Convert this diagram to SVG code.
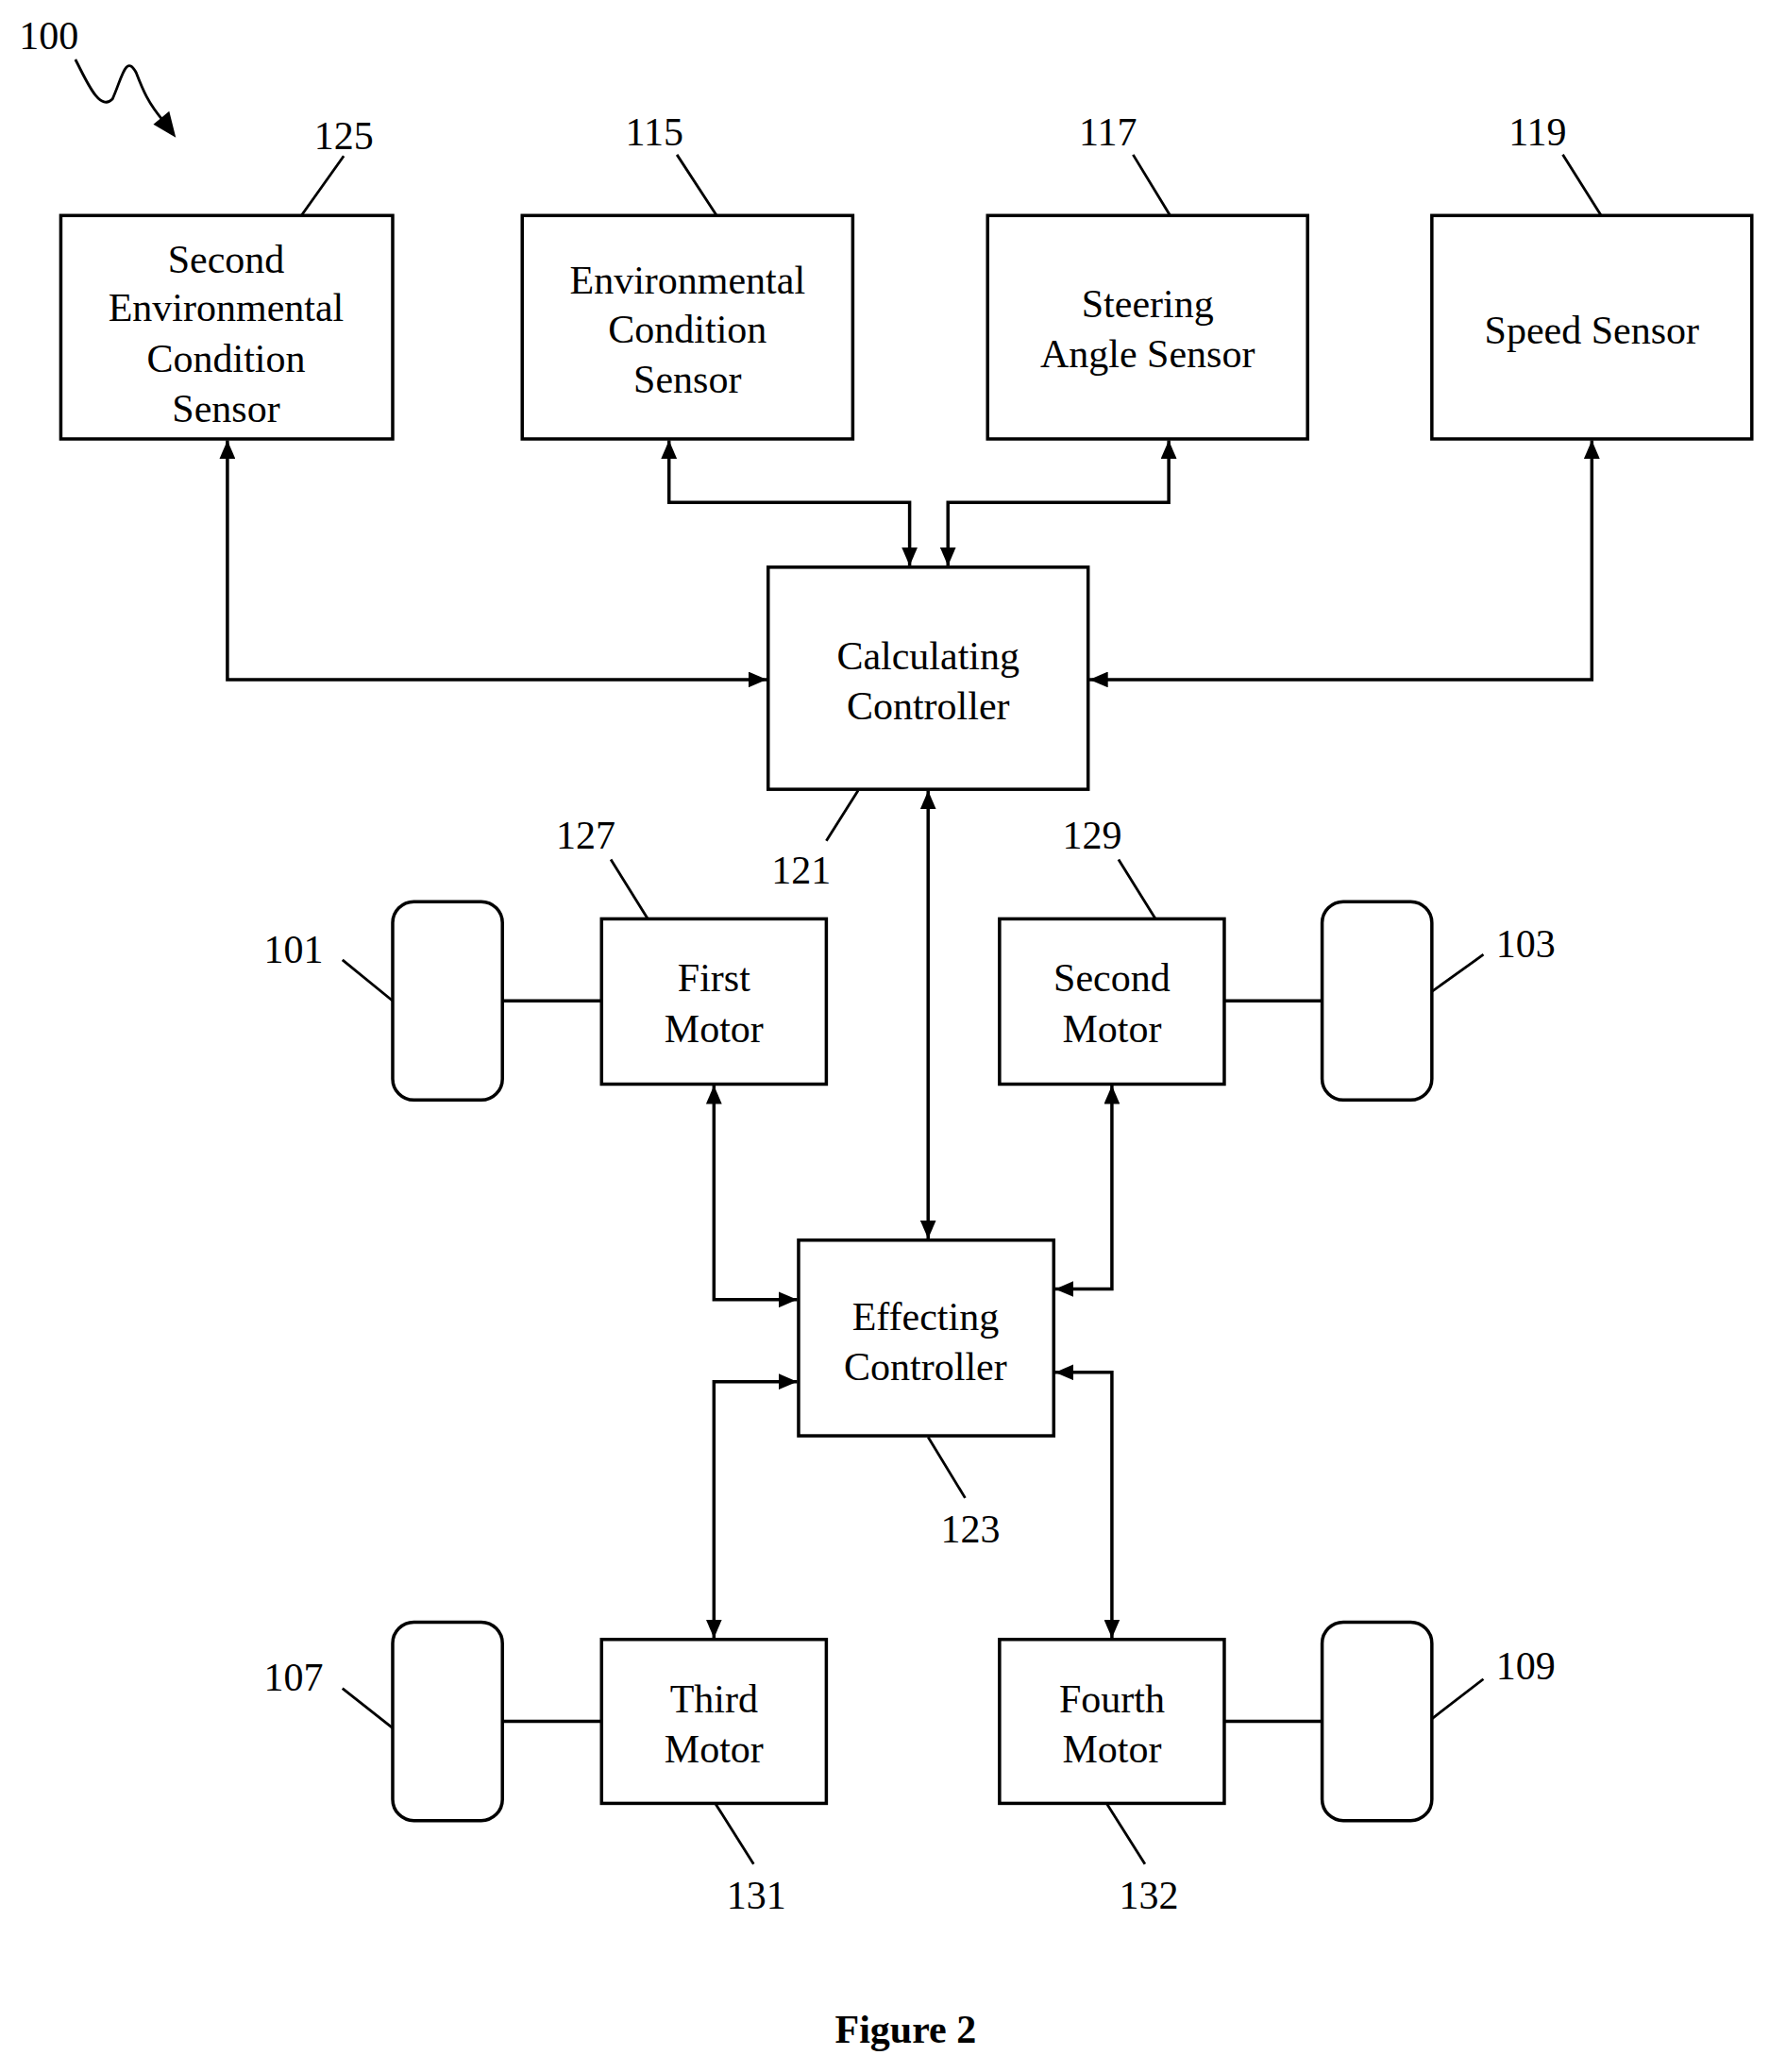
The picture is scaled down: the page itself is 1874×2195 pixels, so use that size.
<svg xmlns="http://www.w3.org/2000/svg" width="1874" height="2195" viewBox="0 0 1874 2195">
<style>
.b{fill:#fff;stroke:#000;stroke-width:2.5}
.t{font-family:"Liberation Serif",serif;font-size:30px;text-anchor:middle;fill:#000}
.c{fill:none;stroke:#000;stroke-width:2.5}
.l{fill:none;stroke:#000;stroke-width:2}
</style>
<defs>
<marker id="a" viewBox="0 0 14 12" refX="14" refY="6" markerWidth="14" markerHeight="12" markerUnits="userSpaceOnUse" orient="auto-start-reverse"><path d="M0,0L14,6L0,12z" fill="#000"/></marker>
</defs>
<rect width="1874" height="2195" fill="#fff"/>
<g transform="scale(1.4006)">
<g id="connectors">
<path class="c" d="M172,333V514H580" marker-start="url(#a)" marker-end="url(#a)"/>
<path class="c" d="M506,333V380H688V428" marker-start="url(#a)" marker-end="url(#a)"/>
<path class="c" d="M884,333V380H717V428" marker-start="url(#a)" marker-end="url(#a)"/>
<path class="c" d="M1204,333V514H824" marker-start="url(#a)" marker-end="url(#a)"/>
<path class="c" d="M702,598V937" marker-start="url(#a)" marker-end="url(#a)"/>
<path class="c" d="M540,821V983H603" marker-start="url(#a)" marker-end="url(#a)"/>
<path class="c" d="M841,821V975H798" marker-start="url(#a)" marker-end="url(#a)"/>
<path class="c" d="M540,1239V1045H603" marker-start="url(#a)" marker-end="url(#a)"/>
<path class="c" d="M841,1239V1038H798" marker-start="url(#a)" marker-end="url(#a)"/>
<path class="c" d="M380,757H455M926,757H1000M380,1302H455M926,1302H1000"/>
<path class="l" d="M228,163L260,118M542,163L512,117M885,163L857,117M1211,163L1182,117M649,598L625,636M490,695L462,650M874,695L846,650M297,757L259,726M1083,750L1122,722M702,1087L730,1133M297,1307L259,1277M1083,1300L1122,1270M541,1364L570,1410M837,1364L866,1410"/>
<path class="l" d="M57,45C65,60 75,85 85,75C92,60 95,40 103,55C108,68 112,78 124,92" />
<path d="M133,104L116,94L128,84z" fill="#000"/>
</g>
<g id="n125"><rect class="b" x="46" y="163" width="251" height="169"/><text class="t" x="171"><tspan x="171" y="206">Second</tspan><tspan x="171" y="243">Environmental</tspan><tspan x="171" y="281">Condition</tspan><tspan x="171" y="319">Sensor</tspan></text></g>
<g id="n115"><rect class="b" x="395" y="163" width="250" height="169"/><text class="t"><tspan x="520" y="222">Environmental</tspan><tspan x="520" y="259">Condition</tspan><tspan x="520" y="297">Sensor</tspan></text></g>
<g id="n117"><rect class="b" x="747" y="163" width="242" height="169"/><text class="t"><tspan x="868" y="240">Steering</tspan><tspan x="868" y="278">Angle Sensor</tspan></text></g>
<g id="n119"><rect class="b" x="1083" y="163" width="242" height="169"/><text class="t" x="1204" y="260">Speed Sensor</text></g>
<g id="n121"><rect class="b" x="581" y="429" width="242" height="168"/><text class="t"><tspan x="702" y="506">Calculating</tspan><tspan x="702" y="544">Controller</tspan></text></g>
<g id="n127"><rect class="b" x="455" y="695" width="170" height="125"/><text class="t"><tspan x="540" y="750">First</tspan><tspan x="540" y="788">Motor</tspan></text></g>
<g id="n129"><rect class="b" x="756" y="695" width="170" height="125"/><text class="t"><tspan x="841" y="750">Second</tspan><tspan x="841" y="788">Motor</tspan></text></g>
<g id="n101"><rect class="b" x="297" y="682" width="83" height="150" rx="16"/></g>
<g id="n103"><rect class="b" x="1000" y="682" width="83" height="150" rx="16"/></g>
<g id="n123"><rect class="b" x="604" y="938" width="193" height="148"/><text class="t"><tspan x="700" y="1006">Effecting</tspan><tspan x="700" y="1044">Controller</tspan></text></g>
<g id="n131"><rect class="b" x="455" y="1240" width="170" height="124"/><text class="t"><tspan x="540" y="1295">Third</tspan><tspan x="540" y="1333">Motor</tspan></text></g>
<g id="n132"><rect class="b" x="756" y="1240" width="170" height="124"/><text class="t"><tspan x="841" y="1295">Fourth</tspan><tspan x="841" y="1333">Motor</tspan></text></g>
<g id="n107"><rect class="b" x="297" y="1227" width="83" height="150" rx="16"/></g>
<g id="n109"><rect class="b" x="1000" y="1227" width="83" height="150" rx="16"/></g>
<g id="labels">
<text class="t" x="37" y="37">100</text>
<text class="t" x="260" y="113">125</text>
<text class="t" x="495" y="110">115</text>
<text class="t" x="838" y="110">117</text>
<text class="t" x="1163" y="110">119</text>
<text class="t" x="606" y="668">121</text>
<text class="t" x="443" y="642">127</text>
<text class="t" x="826" y="642">129</text>
<text class="t" x="222" y="728">101</text>
<text class="t" x="1154" y="724">103</text>
<text class="t" x="734" y="1167">123</text>
<text class="t" x="222" y="1279">107</text>
<text class="t" x="1154" y="1270">109</text>
<text class="t" x="572" y="1444">131</text>
<text class="t" x="869" y="1444">132</text>
<text class="t" x="685" y="1545" font-weight="bold">Figure 2</text>
</g>
</g>
</svg>
